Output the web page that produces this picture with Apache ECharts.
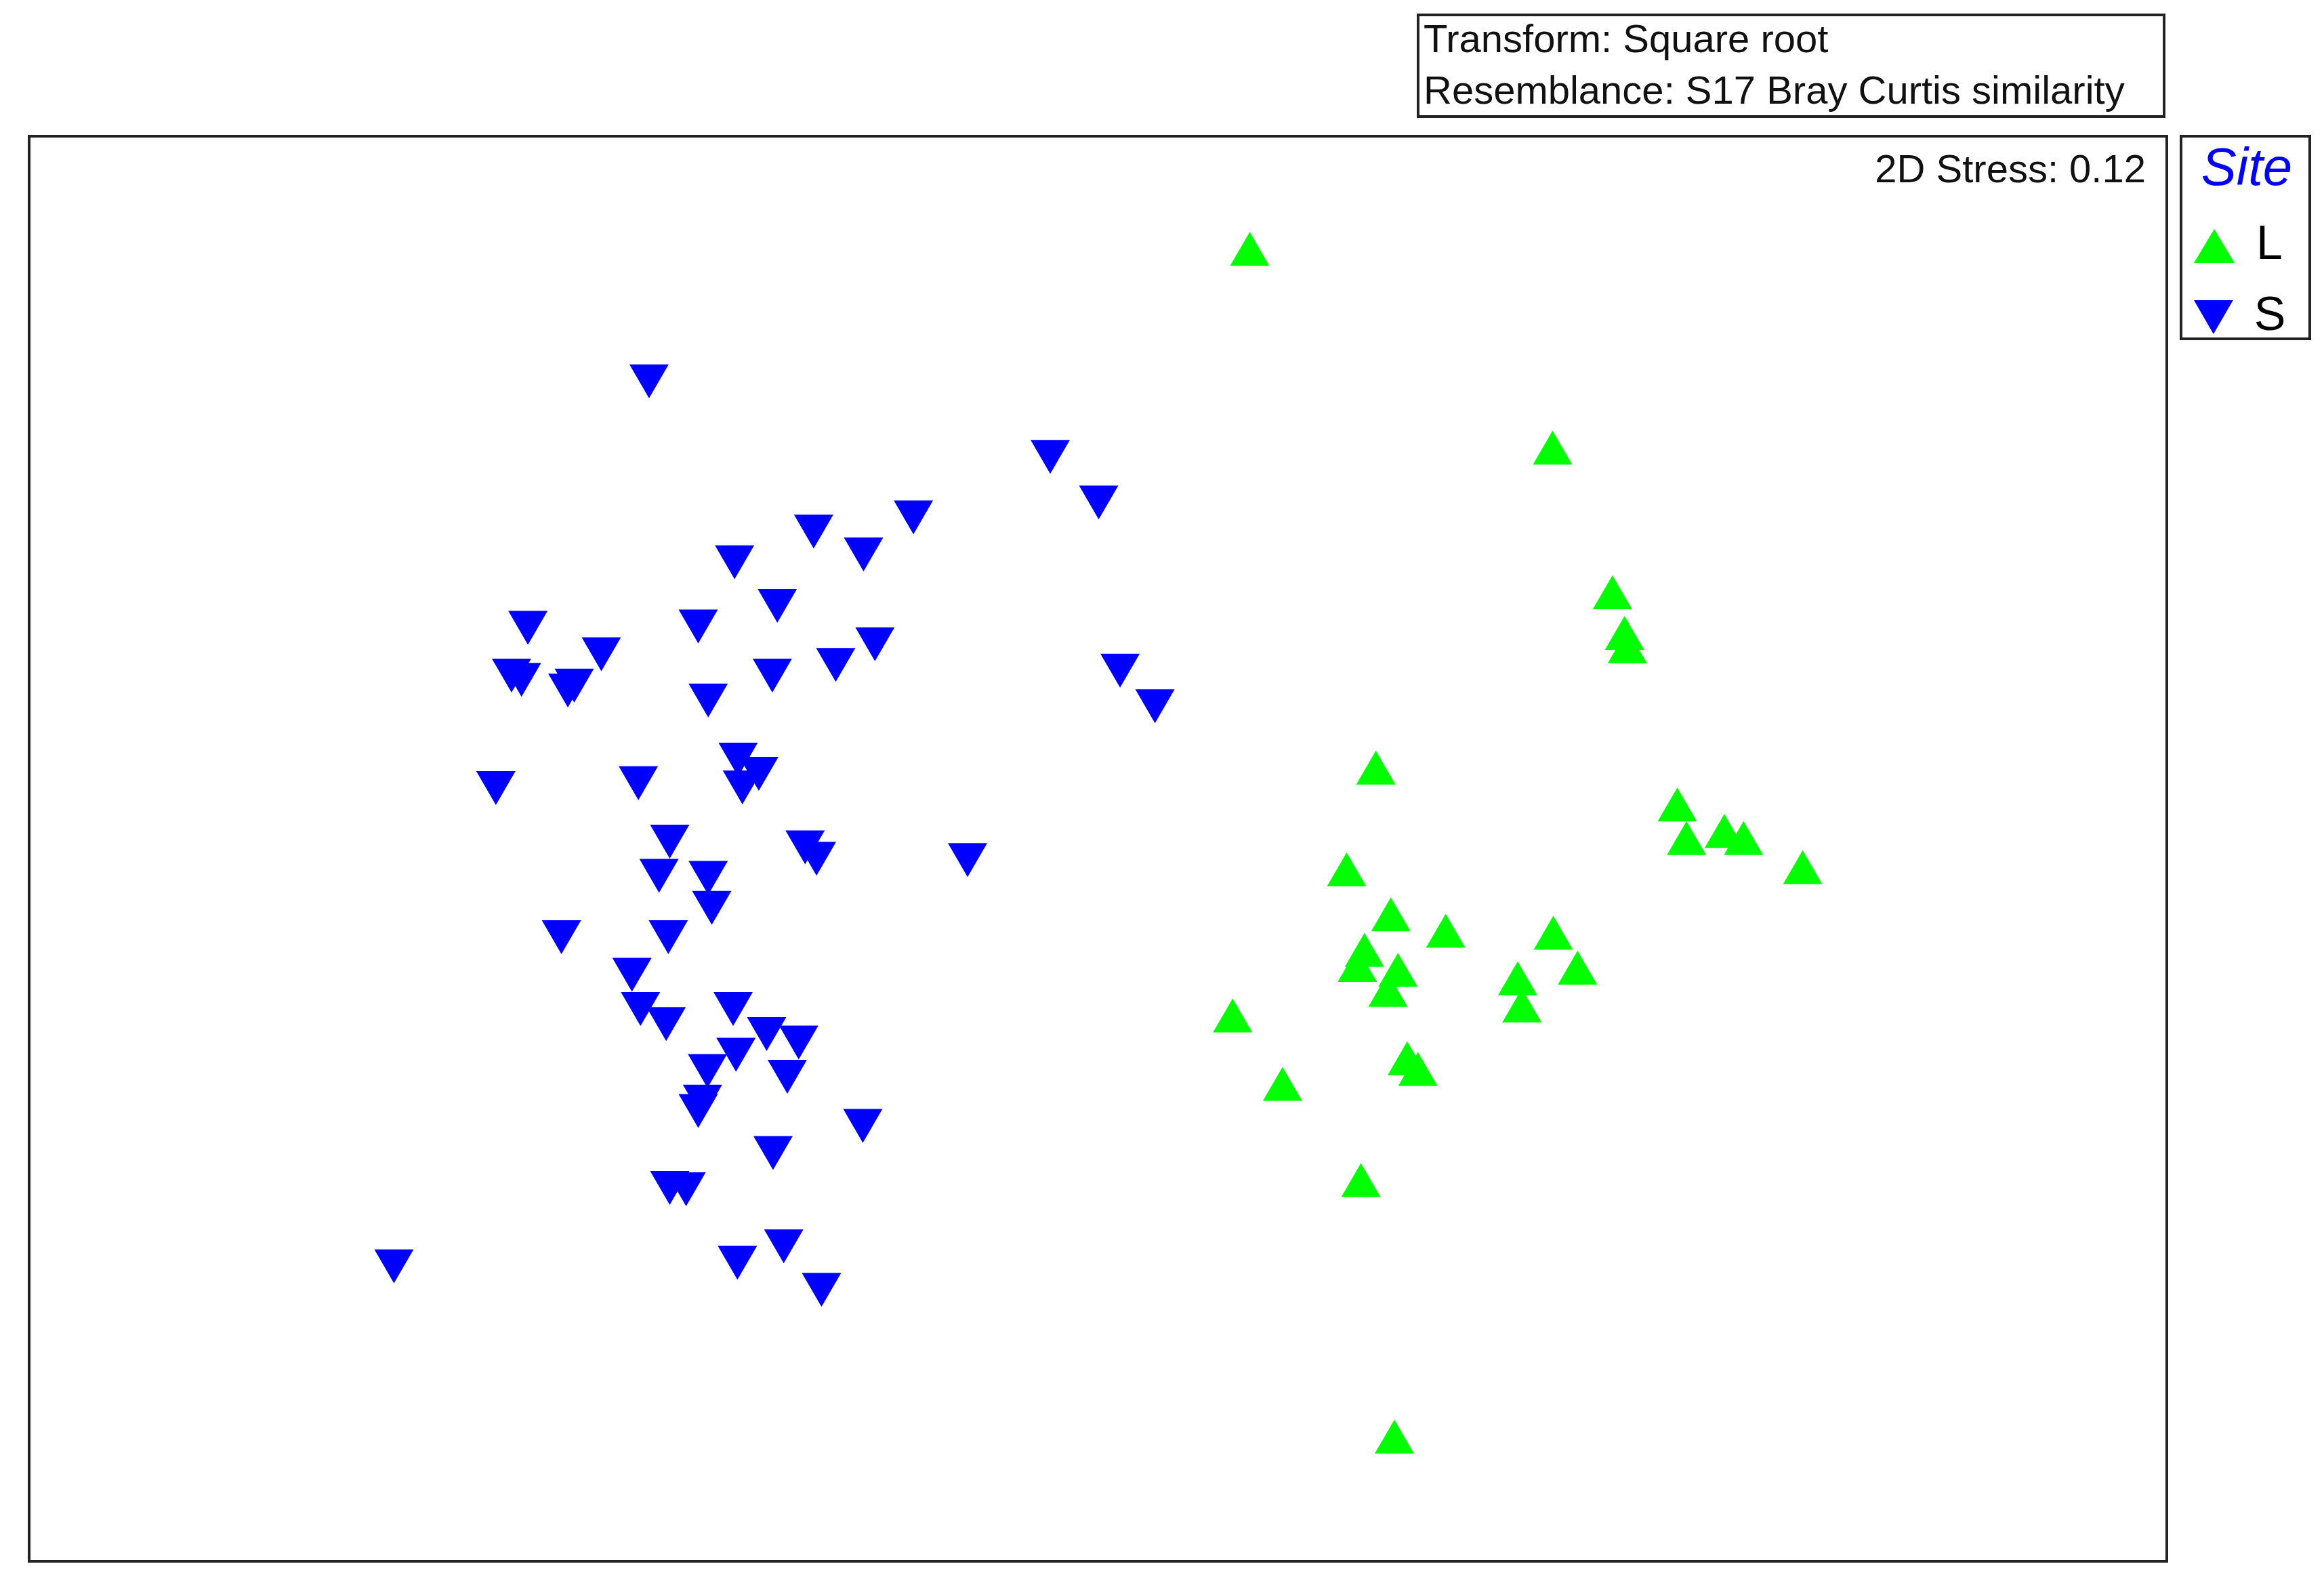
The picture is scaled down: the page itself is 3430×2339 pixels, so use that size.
<!DOCTYPE html>
<html>
<head>
<meta charset="utf-8">
<script src="https://cdn.jsdelivr.net/npm/echarts@6/dist/echarts.min.js"></script>
<style>
html,body{margin:0;padding:0;background:#fff;}
#chart{width:3430px;height:2339px;}
</style>
</head>
<body>
<div id="chart"></div>
<script>
// nMDS ordination coordinates
const sites = ['L', 'S'];
const L_x = [0.213, 0.638, 0.722, 0.739, 0.743, 0.390, 0.813, 0.826, 0.879, 0.906, 0.989, 0.349, 0.411, 0.488, 0.639, 0.374, 0.364, 0.421, 0.407, 0.673, 0.589, 0.595, 0.189, 0.259, 0.434, 0.449, 0.369, 0.416];
const L_y = [0.842, 0.563, 0.360, 0.303, 0.284, 0.114, 0.062, 0.015, 0.025, 0.015, -0.026, -0.029, -0.092, -0.115, -0.118, -0.142, -0.163, -0.170, -0.198, -0.167, -0.182, -0.220, -0.234, -0.330, -0.294, -0.309, -0.465, -0.825];
const S_x = [-0.630, -0.067, 0.001, -0.259, -0.399, -0.329, -0.510, -0.450, -0.800, -0.561, -0.697, -0.313, -0.823, -0.809, -0.744, -0.735, -0.368, -0.457, 0.031, 0.080, -0.547, -0.845, -0.645, -0.505, -0.476, -0.499, -0.601, -0.411, -0.395, -0.183, -0.616, -0.547, -0.542, -0.753, -0.603, -0.654, -0.642, -0.606, -0.512, -0.465, -0.420, -0.508, -0.548, -0.436, -0.555, -0.561, -0.330, -0.456, -0.601, -0.578, -0.988, -0.506, -0.441, -0.388];
const S_y = [0.656, 0.550, 0.486, 0.465, 0.445, 0.413, 0.402, 0.341, 0.310, 0.312, 0.273, 0.287, 0.243, 0.237, 0.222, 0.229, 0.258, 0.243, 0.250, 0.200, 0.208, 0.085, 0.092, 0.125, 0.105, 0.086, 0.010, 0.002, -0.014, -0.016, -0.038, -0.041, -0.083, -0.124, -0.124, -0.177, -0.225, -0.246, -0.225, -0.260, -0.272, -0.289, -0.312, -0.320, -0.355, -0.368, -0.389, -0.427, -0.476, -0.478, -0.586, -0.581, -0.558, -0.619];
const transformText = 'Transform: Square root';
const resemblanceText = 'Resemblance: S17 Bray Curtis similarity';
const stressText = '2D Stress: 0.12';
const legendTitle = 'Site';

const FONT = '"Liberation Sans", Arial, sans-serif';
const GREEN = '#00ff00';
const BLUE = '#0000ff';
const FRAME = '#222222';

const chart = echarts.init(document.getElementById('chart'), null, {renderer: 'canvas'});
const pairs = (xs, ys) => xs.map((x, i) => [x, ys[i]]);
const hiddenAxis = (min, max) => ({
  type: 'value', min: min, max: max,
  axisLine: {show: false}, axisTick: {show: false},
  axisLabel: {show: false}, splitLine: {show: false}
});

chart.setOption({
  animation: false,
  backgroundColor: '#ffffff',
  grid: {
    left: 43, top: 201, width: 3155, height: 2103,
    show: true, borderColor: FRAME, borderWidth: 4, backgroundColor: 'transparent'
  },
  xAxis: hiddenAxis(-1.5, 1.5),
  yAxis: hiddenAxis(-1, 1),
  legend: [
    {
      data: [{name: sites[0], icon: 'triangle'}],
      left: 3238, top: 328, orient: 'vertical', padding: 0,
      itemWidth: 60, itemHeight: 50,
      textStyle: {fontSize: 70, lineHeight: 50, fontFamily: FONT, color: '#000', padding: [0, 0, 0, 27]}
    },
    {
      data: [{name: sites[1], icon: 'path://M0,0L2,0L1,1.732Z'}],
      left: 3238, top: 433, orient: 'vertical', padding: 0,
      itemWidth: 60, itemHeight: 50,
      textStyle: {fontSize: 70, lineHeight: 50, fontFamily: FONT, color: '#000', padding: [0, 0, 20, 25]}
    }
  ],
  series: [
    {
      name: sites[0], type: 'scatter', data: pairs(L_x, L_y),
      symbol: 'triangle', symbolSize: [58, 50],
      itemStyle: {color: GREEN, opacity: 1}
    },
    {
      name: sites[1], type: 'scatter', data: pairs(S_x, S_y),
      symbol: 'triangle', symbolSize: [58, 50], symbolRotate: 180,
      itemStyle: {color: BLUE, opacity: 1}
    }
  ],
  graphic: [
    {type: 'rect', shape: {x: 2093, y: 22, width: 1101, height: 150},
     style: {fill: '#fff', stroke: FRAME, lineWidth: 4}},
    {type: 'text', x: 2101, y: 61,
     style: {text: transformText, font: '58px ' + FONT, fill: '#111', verticalAlign: 'middle', align: 'left'}},
    {type: 'text', x: 2101, y: 137,
     style: {text: resemblanceText, font: '58px ' + FONT, fill: '#111', verticalAlign: 'middle', align: 'left'}},
    {type: 'text', x: 3167, y: 253,
     style: {text: stressText, font: '58px ' + FONT, fill: '#111', verticalAlign: 'middle', align: 'right'}},
    {type: 'rect', shape: {x: 3219, y: 201, width: 190, height: 299},
     style: {fill: 'none', stroke: FRAME, lineWidth: 4}},
    {type: 'text', x: 3316, y: 251,
     style: {text: legendTitle, font: 'italic 78px ' + FONT, fill: BLUE, verticalAlign: 'middle', align: 'center'}}
  ]
});
</script>
</body>
</html>
